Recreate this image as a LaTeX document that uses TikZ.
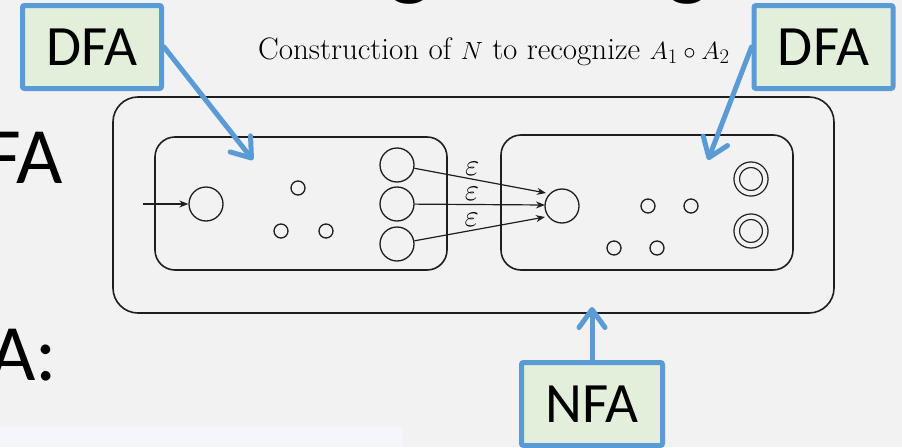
\documentclass[tikz,border=0pt]{standalone}
\usepackage{fontspec}
\newfontfamily\calib{Carlito}
\usetikzlibrary{arrows.meta}
\definecolor{bg}{HTML}{F2F2F2}
\definecolor{panel}{HTML}{F5F5FC}
\definecolor{callblue}{HTML}{5B9BD5}
\definecolor{callfill}{HTML}{E2EFDA}
\definecolor{ink}{HTML}{1E1E1E}
\newcommand\epsmark{\scalebox{1.25}{$\varepsilon$}}
\begin{document}
\begin{tikzpicture}[x=1pt,y=-1pt,
  frame/.style={draw=ink, line width=1.6pt, rounded corners=#1, inner sep=0pt},
  st/.style={circle, draw=ink, line width=1.3pt, minimum size=34pt, inner sep=0pt},
  sm/.style={circle, draw=ink, line width=1.3pt, minimum size=14pt, inner sep=0pt},
  acc/.style={circle, draw=ink, line width=1.3pt, double=bg, double distance=4.2pt,
              minimum size=28.5pt, inner sep=0pt},
  trans/.style={draw=ink, line width=1.2pt, -{Stealth[length=9pt,width=7pt]}},
  epslab/.style={above=3pt, inner sep=0pt, pos=0.44, font=\fontsize{24.88}{28}\selectfont},
  callout/.style={draw=callblue, fill=callfill, line width=5pt, rounded corners=2pt,
                  minimum width=139pt, minimum height=83pt, inner sep=0pt,
                  font=\calib\fontsize{57}{60}\selectfont},
  pointer/.style={draw=callblue, line width=5pt, line cap=round, line join=round,
                  -{Straight Barb[round, length=18pt, width=26pt]}},
  big/.style={inner sep=0pt, font=\calib\fontsize{80}{90}\selectfont},
  title/.style={inner sep=0pt, anchor=base, font=\calib\fontsize{92}{100}\selectfont}]

% canvas
\useasboundingbox (0,0) rectangle (902,447);
\fill[bg] (0,0) rectangle (902,447);
\fill[panel] (0,427) rectangle (402,447);

% slide text around the figure
\node[title] (g1) at (410,-11.5) {g};
\node[title] (g2) at (688,-11.5) {g};
\node[big, anchor=base east] (fa) at (63,183) {FA};
\node[big, anchor=base east] (acol) at (57,380) {A:};

% caption
\node[anchor=base west, inner sep=0pt, font=\fontsize{31}{34}\selectfont] (cap) at (258,59)
  {Construction of $N$ to recognize $A_1\circ A_2$};

% machine frames
\node[frame=25pt, minimum width=721pt, minimum height=216pt] (outer) at (473.5,205) {};
\node[frame=20pt, minimum width=292pt, minimum height=133pt] (m1) at (301,203.5) {};
\node[frame=20pt, minimum width=292pt, minimum height=135pt] (m2) at (647,202.5) {};

% first machine
\node[st] (s1) at (206,204) {};
\coordinate (in) at (143,204);
\node[sm] (p1) at (298,188) {};
\node[sm] (p2) at (281,231) {};
\node[sm] (p3) at (326,231) {};
\node[st] (f1) at (397,165) {};
\node[st] (f2) at (397,204) {};
\node[st] (f3) at (397,244) {};
\draw[trans] (in) -- (s1);

% second machine
\node[st] (s2) at (562,206) {};
\node[sm] (q1) at (648,206) {};
\node[sm] (q2) at (691,206) {};
\node[sm] (q3) at (614,248) {};
\node[sm] (q4) at (657,248) {};
\node[acc] (a1) at (751,179) {};
\node[acc] (a2) at (751,231) {};

% epsilon links
\coordinate (e1) at (546,193);
\coordinate (e2) at (545,205);
\coordinate (e3) at (545,217);
\draw[trans] (f1) -- node[epslab] (l1) {\epsmark} (e1);
\draw[trans] (f2) -- node[epslab] (l2) {\epsmark} (e2);
\draw[trans] (f3) -- node[epslab] (l3) {\epsmark} (e3);

% callouts
\node[callout] (dfa1) at (92,47) {DFA};
\node[callout] (dfa2) at (823.5,47) {DFA};
\node[callout, minimum width=141pt] (nfa) at (592,404) {NFA};
\coordinate (t1) at (253,160);
\coordinate (t2) at (708,160);
\coordinate (t3) at (592,307);
\draw[pointer] (dfa1.east) -- (t1);
\draw[pointer] (dfa2.west) -- (t2);
\draw[pointer] (nfa.north) -- (t3);
\end{tikzpicture}
\end{document}
